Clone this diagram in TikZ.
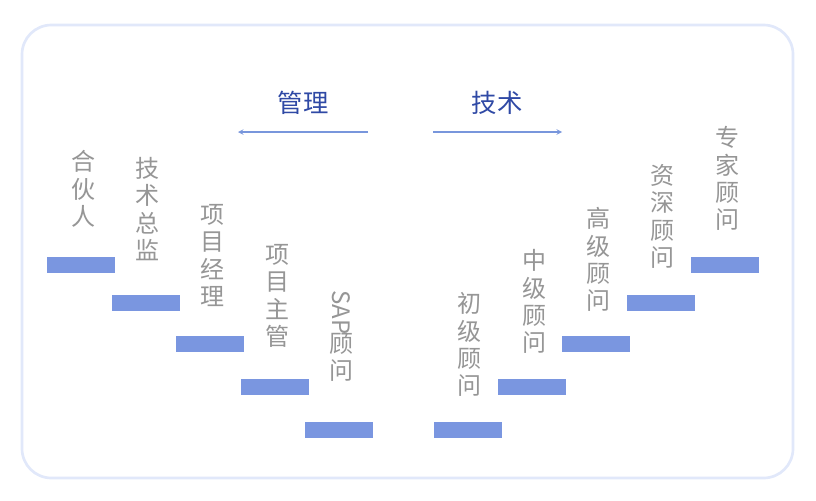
\documentclass[tikz,border=0pt]{standalone}
\usepackage{fontspec}
\setmainfont{Noto Sans CJK SC}
\tikzset{every picture/.style={line width=0.75pt}}
\tikzset{
  stepbar/.style={fill={rgb,255:red,122;green,150;blue,224}, draw=none},
  rank/.style={anchor=north, inner sep=0pt, align=center, text={rgb,255:red,150;green,150;blue,150}, font=\fontsize{18}{20.5}\selectfont},
  head/.style={inner sep=0pt, text={rgb,255:red,47;green,73;blue,165}, font=\fontsize{19}{22}\selectfont},
  guide/.style={draw={rgb,255:red,120;green,150;blue,220}, line width=0.8pt, -stealth}
}
\begin{document}
\begin{tikzpicture}[x=0.75pt,y=0.75pt,yscale=-1,xscale=1]
\useasboundingbox (0,0) rectangle (816,500);

%Card
\draw [draw={rgb,255:red,225;green,232;blue,250}, line width=2pt, fill=white, rounded corners=22] (22,25) rectangle (793,478);

%Headers
\node [head] (mgmt) at (303,103) {管理};
\node [head] (tech) at (497,103) {技术};
\coordinate (mgmtR) at (368,132);
\coordinate (mgmtL) at (238,132);
\coordinate (techL) at (433,132);
\coordinate (techR) at (562,132);
\draw [guide] (mgmtR) -- (mgmtL);
\draw [guide] (techL) -- (techR);

%Left steps
\fill [stepbar] (47,257) rectangle (115,273);
\fill [stepbar] (112,295) rectangle (180,311);
\fill [stepbar] (176,336) rectangle (244,352);
\fill [stepbar] (241,379) rectangle (309,395);
\fill [stepbar] (305,422) rectangle (373,438);

%Right steps
\fill [stepbar] (434,422) rectangle (502,438);
\fill [stepbar] (498,379) rectangle (566,395);
\fill [stepbar] (562,336) rectangle (630,352);
\fill [stepbar] (627,295) rectangle (695,311);
\fill [stepbar] (691,257) rectangle (759,273);

% Text Node
\node [rank] (partner) at (83,150) {合\\伙\\人};
\node [rank] (cto) at (147,157) {技\\术\\总\\监};
\node [rank] (pm) at (212,204) {项\\目\\经\\理};
\node [rank] (lead) at (277,244) {项\\目\\主\\管};
\node [rank] (sap) at (341,290) {\rotatebox{-90}{SAP}\\[-2pt]顾\\问};
\node [rank] (junior) at (469,292) {初\\级\\顾\\问};
\node [rank] (middle) at (534,249) {中\\级\\顾\\问};
\node [rank] (senior) at (598,207) {高\\级\\顾\\问};
\node [rank] (expert) at (662,164) {资\\深\\顾\\问};
\node [rank] (master) at (727,126) {专\\家\\顾\\问};

\end{tikzpicture}
\end{document}
